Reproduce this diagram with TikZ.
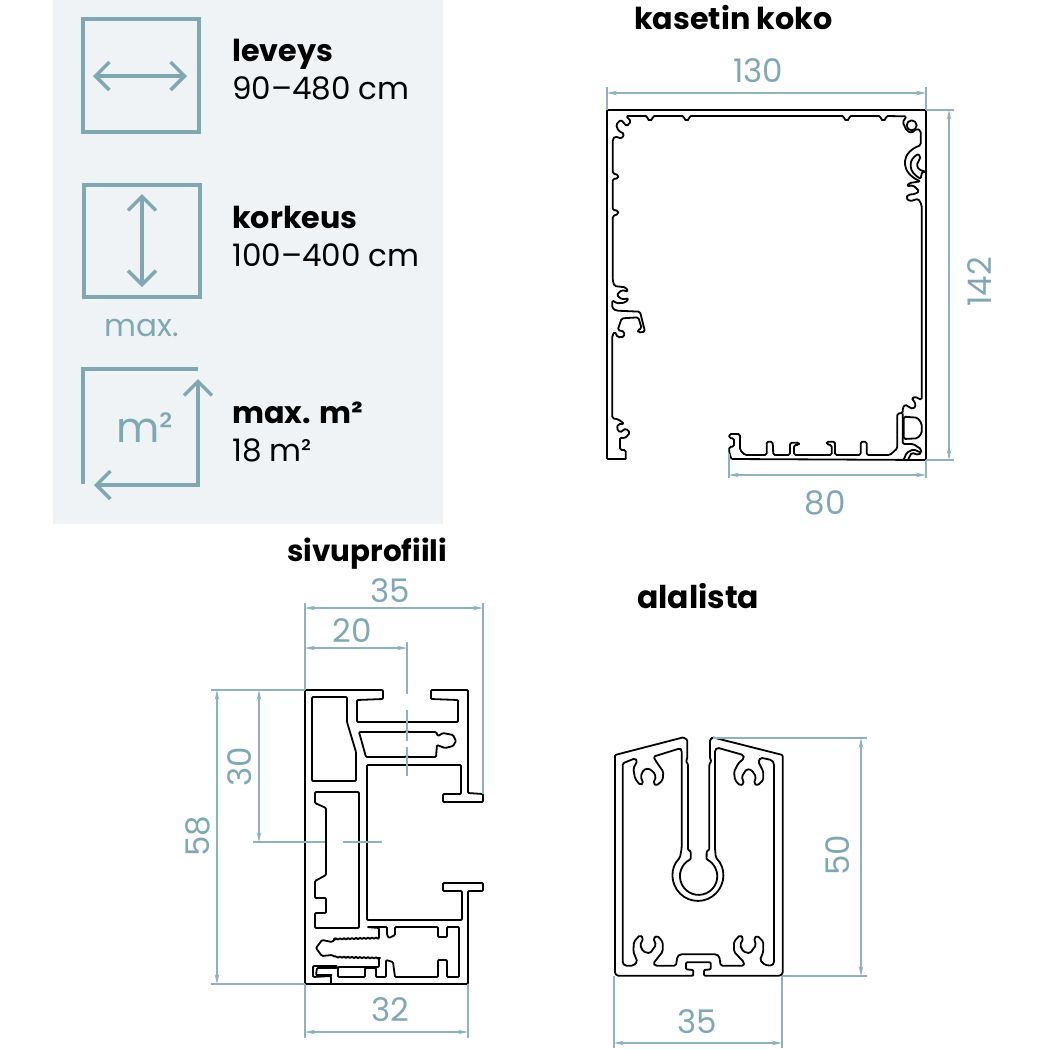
\documentclass[tikz,border=0pt]{standalone}
\usepackage{fontspec}
\setmainfont{Poppins}
\usetikzlibrary{positioning,arrows.meta,decorations.pathmorphing}
\definecolor{panel}{HTML}{EFF3F6}
\definecolor{teal1}{HTML}{7FA8B2}
\definecolor{teal2}{HTML}{8FB3BD}
\tikzset{profile/.style={draw=black,line width=1.8pt,line join=round,rounded corners=1pt},
    iconline/.style={draw=teal1,line width=3.4pt},
    iconarrow/.style={iconline,{Straight Barb[length=14pt,width=28pt,line width=3.4pt]}-{Straight Barb[length=14pt,width=28pt,line width=3.4pt]}},
    dimline/.style={draw=teal2,line width=1.1pt,{Stealth[length=10pt,width=4.5pt]}-{Stealth[length=10pt,width=4.5pt]}},
    extline/.style={draw=teal2,line width=1.1pt},
    titletext/.style={font=\fontsize{30.2}{36}\selectfont\bfseries,inner sep=0pt,anchor=base west},
    valuetext/.style={font=\fontsize{31}{37}\selectfont,inner sep=0pt,anchor=base west},
    dimtext/.style={font=\fontsize{32.5}{38}\selectfont,text=teal1,inner sep=0pt}}

\begin{document}
\begin{tikzpicture}[x=1pt,y=-1pt]
    \useasboundingbox (0,0) rectangle (1050,1050);
    \fill[panel] (53,0) rectangle (443,524);

    % icons
    \draw[iconline] (83,19) rectangle (199,132);
    \coordinate (wl) at (93,76);
    \coordinate (wr) at (187,76);
    \draw[iconarrow] (wl) -- (wr);
    \draw[iconline] (84,185) rectangle (200,297);
    \coordinate (ht) at (142,194);
    \coordinate (hb) at (142,287);
    \draw[iconarrow] (ht) -- (hb);
    \node[dimtext] (maxlabel) at (142,328) {\fontsize{31}{36}\selectfont max.};
    \coordinate (ml) at (94,485);
    \coordinate (mc) at (198,485);
    \coordinate (mt) at (198,379);
    \draw[iconline] (198,369) -- (83,369) -- (83,484);
    \draw[iconarrow] (ml) -- (mc) -- (mt);
    \node[dimtext] (m2label) at (145,428) {\fontsize{42}{48}\selectfont m²};

    \node[titletext] (leveys) at (232,61) {leveys};
    \node[valuetext,below=38pt of leveys.base west,anchor=base west] (leveysval) {90–480 cm};
    \node[titletext] (korkeus) at (232,228) {korkeus};
    \node[valuetext,below=38pt of korkeus.base west,anchor=base west] (korkeusval) {100–400 cm};
    \node[titletext] (maxm) at (232,423) {max. m²};
    \node[valuetext,below=38pt of maxm.base west,anchor=base west] (maxmval) {18 m²};

    \node[titletext] (kasetin) at (634,29) {kasetin koko};
    \node[titletext,font=\fontsize{29.4}{36}\selectfont\bfseries] (sivu) at (287,561) {sivuprofiili};
    \node[titletext,font=\fontsize{31.4}{36}\selectfont\bfseries] (alalista) at (637,608) {alalista};

    % kasetin koko
    \coordinate (kTL) at (607,110);
    \coordinate (kTR) at (926,110);
    \coordinate (kBR) at (926,460);
    \coordinate (kBL) at (729,460);
    \draw[profile] (626,459) -- (607,459) -- (kTL) -- (kTR) -- (kBR) -- (732,459);
    \begin{scope}[shift={(590,90)},scale=1/3]
        \draw[profile,rounded corners=1.6pt] (995,540) -- (995,345) -- (992,339) -- (985,326) -- (960,334) -- (948,324) -- (955,314) -- (975,312) -- (988,304) -- (970,286) -- (950,289) -- (958,279) -- (992,274) .. controls (962,262) and (945,240) .. (945,218) .. controls (945,195) and (965,175) .. (992,166) -- (992,122) -- (980,116) -- (965,129) -- (950,122) -- (938,96) -- (950,79)
            -- (888,78) -- (888,88) -- (880,92) -- (872,88) -- (872,78) -- (778,78) -- (778,88) -- (770,92) -- (762,88) -- (762,78)
            -- (298,78) -- (298,88) -- (290,92) -- (282,88) -- (282,78) -- (188,78) -- (188,88) -- (180,92) -- (172,88) -- (172,78)
            -- (108,78) -- (123,94) -- (110,109) -- (93,89) -- (78,104) -- (85,122) -- (103,132) -- (95,146) -- (75,139) -- (68,149)
            -- (68,250) -- (85,255) -- (85,265) -- (68,267) -- (68,360) -- (85,362) -- (85,372) -- (68,378) -- (68,540);
        \draw[profile] (965,106) circle[radius=15];
        \draw[profile] (985,192) .. controls (970,200) and (962,212) .. (962,226) .. controls (962,242) and (975,258) .. (992,266) -- (996,247) -- (1008,245) .. controls (990,242) and (982,235) .. (982,224) .. controls (982,212) and (992,210) .. (990,200) -- cycle;
    \end{scope}
    \begin{scope}[shift={(590,270)},scale=1/3]
        \draw[profile,rounded corners=1.6pt] (68,0) -- (68,30) -- (73,48) -- (107,52) -- (115,65) -- (95,60) -- (80,75) -- (95,88) -- (117,85) -- (105,98) -- (80,100) -- (67,90) -- (67,115) -- (80,122) -- (150,125) -- (165,185) -- (145,188) -- (143,180) -- (155,175) -- (145,142) -- (95,145) -- (83,180) -- (103,185) -- (103,200) -- (83,202) -- (75,185) -- (67,195)
            -- (67,445) -- (85,448) -- (103,462) -- (85,462) -- (80,475) -- (90,488) -- (107,475) -- (120,488) -- (105,505) -- (90,502) -- (90,540) -- (107,540) -- (107,567);
        \draw[profile,rounded corners=1.6pt] (425,568) -- (418,550) -- (418,530) -- (432,530) -- (432,505) -- (418,505) -- (418,492) -- (450,492) -- (450,540) -- (465,555) -- (530,555) -- (530,515) -- (548,515) -- (550,555) -- (600,555) -- (600,518) -- (627,518) -- (627,525) -- (612,525) -- (612,555) -- (725,555) -- (725,525) -- (710,523) -- (710,515) -- (735,515) -- (735,555) -- (812,555) -- (812,515) -- (830,515) -- (830,555) -- (900,555) -- (922,535) -- (922,430) -- (938,430) -- (938,415) -- (945,403) -- (960,413) -- (970,417) -- (978,405) -- (970,390) -- (965,385) -- (975,380) -- (995,390) -- (995,0);
        \draw[profile,rounded corners=1.6pt] (941,440) -- (982,443) -- (995,460) -- (995,490) -- (982,505) -- (941,507) -- cycle;
        \draw[profile,rounded corners=1.6pt] (938,430) -- (938,522) -- (970,522) -- (994,538) -- (994,548);
        \draw[profile,rounded corners=1.6pt] (942,567) -- (950,548) -- (970,538) -- (994,548) -- (985,555) -- (965,548) -- (955,567);
    \end{scope}
    \coordinate (k130a) at (607,93);
    \coordinate (k130b) at (926,93);
    \coordinate (k142a) at (949,110);
    \coordinate (k142b) at (949,460);
    \coordinate (k80a) at (729,475);
    \coordinate (k80b) at (926,475);
    \draw[dimline] (k130a) -- (k130b);
    \draw[dimline] (k142a) -- (k142b);
    \draw[dimline] (k80a) -- (k80b);
    \draw[extline] (kTL) -- ([yshift=6pt]k130a);
    \draw[extline] (kTR) -- ([yshift=6pt]k130b);
    \draw[extline] (kTR) -- ([xshift=5pt]k142a);
    \draw[extline] (kBR) -- ([xshift=5pt]k142b);
    \draw[extline] ([yshift=6pt]kBL) -- ([yshift=-3pt]k80a);
    \draw[extline] (kBR) -- ([yshift=-3pt]k80b);
    \node[dimtext] (d130) at (758,71) {130};
    \node[dimtext,rotate=90] (d142) at (980,282) {142};
    \node[dimtext] (d80) at (825,503) {80};

    % sivuprofiili
    \coordinate (sTL) at (305,690);
    \coordinate (sTR) at (483,794);
    \coordinate (sBL) at (305,984);
    \coordinate (sBR) at (468,984);
    \draw[profile] (sTL) -- (383,690) -- (383,699) -- (357,700) -- (357,722) -- (458,722) -- (458,700) -- (431,699) -- (431,690) -- (468,690) -- (468,793) -- (483,794) -- (483,802) -- (443,802) -- (443,794) -- (461,794) -- (461,765) -- (367,765) -- (367,920) -- (462,920) -- (462,891) -- (443,891) -- (443,883) -- (483,883) -- (483,891) -- (468,891) -- (sBR) -- (sBL) -- cycle;
    \draw[profile] (312,697) -- (347,697) -- (347,722) -- (356,752) -- (356,781) -- (312,781) -- cycle;
    \draw[profile] (359,732) -- (405,732) -- (407,731) -- (408,732) -- (436,732) -- (438,736) -- (443,733) -- (453,735) -- (456,741) -- (453,746) -- (445,748) -- (437,745) -- (436,757) -- (408,757) -- (407,756) -- (405,757) -- (366,757) -- cycle;
    \draw[profile] (315,792) -- (359,792) -- (359,928) -- (315,928) -- (315,913) -- (326,913) -- (326,898) -- (315,898) -- (315,881) -- (326,875) -- (326,808) -- (315,803) -- cycle;
    \draw[profile] (367,927) -- (379,928) -- (379,938) decorate[decoration={zigzag,segment length=4pt,amplitude=1.2pt}] {-- (335,939)} -- (332,942) -- (322,940) -- (316,948) -- (322,956) -- (332,955) -- (335,957) decorate[decoration={zigzag,segment length=4pt,amplitude=1.2pt}] {-- (379,958)} -- (379,967) -- (338,967) -- (338,977) -- (365,977) -- (365,968) -- (376,968) -- (376,977) -- (386,977) -- (386,960) -- (393,962) -- (395,977) -- (438,977) -- (438,960) -- (447,960) -- (447,977) -- (459,977) -- (459,927) -- (447,927) -- (447,937) -- (438,937) -- (438,927) -- (395,927) -- (395,935) -- (389,938) -- (387,935) -- (387,927) -- cycle;
    \draw[profile] (331,984) -- (331,976) -- (313,977) -- (313,966) -- (337,966) -- (337,968) -- (317,968) -- (316,975) -- (332,975);
    \coordinate (s35a) at (305,608);
    \coordinate (s35b) at (483,608);
    \coordinate (s20a) at (305,648);
    \coordinate (s20b) at (407,648);
    \coordinate (s58a) at (217,690);
    \coordinate (s58b) at (217,984);
    \coordinate (s30a) at (259,690);
    \coordinate (s30b) at (259,842);
    \coordinate (s32a) at (305,1032);
    \coordinate (s32b) at (468,1032);
    \draw[dimline] (s35a) -- (s35b);
    \draw[dimline] (s20a) -- (s20b);
    \draw[dimline] (s58a) -- (s58b);
    \draw[dimline] (s30a) -- (s30b);
    \draw[dimline] (s32a) -- (s32b);
    \draw[extline] (sTL) -- ([yshift=5pt]s35a);
    \draw[extline] (sTR) -- ([yshift=5pt]s35b);
    \draw[extline] (sTL) -- ([xshift=-6pt]s58a);
    \draw[extline] (sBL) -- ([xshift=-6pt]s58b);
    \draw[extline] (sBL) -- ([yshift=-6pt]s32a);
    \draw[extline] (sBR) -- ([yshift=-6pt]s32b);
    \draw[extline] ([yshift=6pt]s20b) -- (407,694);
    \draw[extline] (407,710) -- (407,741);
    \draw[extline] (407,747) -- (407,776);
    \draw[extline] ([xshift=-6pt]s30b) -- (325,842);
    \draw[extline] (343,842) -- (382,842);
    \node[dimtext] (d35) at (390,591) {35};
    \node[dimtext] (d20) at (352,631) {20};
    \node[dimtext,rotate=90] (d58) at (198,836) {58};
    \node[dimtext,rotate=90] (d30) at (240,767) {30};
    \node[dimtext] (d32) at (390,1010) {32};

    % alalista
    \begin{scope}[shift={(600,725)},scale=1/3]
        \draw[profile] (262,45) -- (262,100) -- (258,108) -- (264,118) -- (264,375) -- (272,378) -- (272,403) arc[start angle=244.8,end angle=-64.8,radius=56] -- (320,378) -- (328,375) -- (328,118) -- (334,108) -- (330,100) -- (330,45) -- (338,37) -- (548,90) -- (548,745) -- (540,752) -- (312,752) -- (312,735) -- (332,733) -- (332,712) -- (258,712) -- (258,733) -- (280,735) -- (280,752) -- (52,752) -- (45,745) -- (45,90) -- (250,37) -- cycle;
        \draw[profile,rounded corners=1.6pt] (68,115) -- (105,100) -- (112,108) -- (100,130) -- (105,160) -- (120,180) -- (130,175) -- (122,155) -- (130,135) -- (145,130) -- (160,140) -- (168,155) -- (160,175) -- (170,182) -- (188,165) -- (190,140) -- (172,115) -- (160,95) -- (240,70) -- (245,75) -- (245,370) -- (240,398) arc[start angle=225,end angle=-45,radius=76] -- (345,370) -- (345,75) -- (352,68) -- (430,90) -- (432,100) -- (415,115) -- (402,140) -- (405,165) -- (420,182) -- (432,175) -- (425,155) -- (440,132) -- (455,135) -- (468,155) -- (462,175) -- (472,182) -- (490,165) -- (490,140) -- (475,110) -- (482,98) -- (515,105) -- (522,115) -- (522,715) -- (515,722) -- (495,720) -- (480,705) -- (490,680) -- (490,650) -- (472,632) -- (462,640) -- (468,660) -- (450,685) -- (430,680) -- (420,660) -- (430,640) -- (420,630) -- (402,650) -- (402,680) -- (432,712) -- (432,722) -- (362,722) -- (358,695) -- (350,688) -- (240,688) -- (232,695) -- (228,722) -- (165,722) -- (160,715) -- (188,680) -- (188,650) -- (172,632) -- (160,640) -- (168,660) -- (150,685) -- (130,680) -- (120,660) -- (130,640) -- (120,630) -- (102,650) -- (100,680) -- (112,710) -- (100,722) -- (75,722) -- (68,715) -- cycle;
    \end{scope}
    \coordinate (aTR) at (713,738);
    \coordinate (aBL) at (614,976);
    \coordinate (aBR) at (782,976);
    \coordinate (a50a) at (861,738);
    \coordinate (a50b) at (861,976);
    \coordinate (a35a) at (614,1043);
    \coordinate (a35b) at (782,1043);
    \draw[dimline] (a50a) -- (a50b);
    \draw[dimline] (a35a) -- (a35b);
    \draw[extline] (aTR) -- ([xshift=6pt]a50a);
    \draw[extline] (aBR) -- ([xshift=6pt]a50b);
    \draw[extline] (aBL) -- ([yshift=-5pt]a35a);
    \draw[extline] (aBR) -- ([yshift=-5pt]a35b);
    \node[dimtext,rotate=90] (d50) at (838,855) {50};
    \node[dimtext] (d35b) at (697,1022) {35};
\end{tikzpicture}
\end{document}
